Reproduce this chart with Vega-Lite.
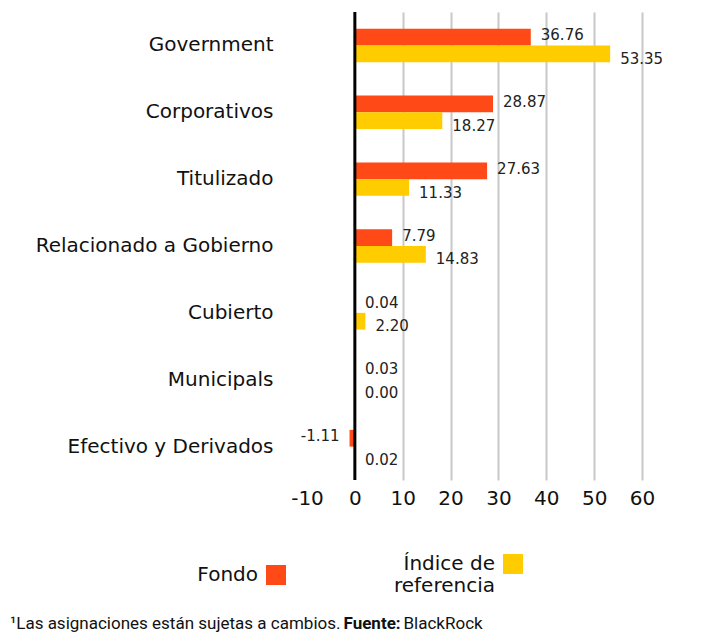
{
  "$schema": "https://vega.github.io/schema/vega-lite/v6.json",
  "width": 335,
  "height": 468,
  "autosize": "none",
  "padding": {"left": 307, "top": 12, "right": 76, "bottom": 156},
  "config": {
    "view": {"stroke": null},
    "font": "DejaVu Sans",
    "background": "white",
    "locale": {
      "number": {"decimal": ".", "thousands": ",", "grouping": [3], "currency": ["$", ""], "minus": "-"}
    }
  },
  "title": {
    "text": "¹Las asignaciones están sujetas a cambios.",
    "orient": "bottom",
    "anchor": "start",
    "frame": "group",
    "dx": -297,
    "dy": -15,
    "offset": 0,
    "fontSize": 17,
    "fontWeight": "normal",
    "font": "Roboto",
    "color": "#111111"
  },
  "data": {
    "values": [
      {"category": "Government", "series": "Fondo", "value": 36.76},
      {"category": "Government", "series": "Índice de referencia", "value": 53.35},
      {"category": "Corporativos", "series": "Fondo", "value": 28.87},
      {"category": "Corporativos", "series": "Índice de referencia", "value": 18.27},
      {"category": "Titulizado", "series": "Fondo", "value": 27.63},
      {"category": "Titulizado", "series": "Índice de referencia", "value": 11.33},
      {"category": "Relacionado a Gobierno", "series": "Fondo", "value": 7.79},
      {"category": "Relacionado a Gobierno", "series": "Índice de referencia", "value": 14.83},
      {"category": "Cubierto", "series": "Fondo", "value": 0.04},
      {"category": "Cubierto", "series": "Índice de referencia", "value": 2.20},
      {"category": "Municipals", "series": "Fondo", "value": 0.03},
      {"category": "Municipals", "series": "Índice de referencia", "value": 0.00},
      {"category": "Efectivo y Derivados", "series": "Fondo", "value": -1.11},
      {"category": "Efectivo y Derivados", "series": "Índice de referencia", "value": 0.02}
    ]
  },
  "layer": [
    {
      "mark": {"type": "bar"},
      "encoding": {
        "y": {
          "field": "category",
          "type": "nominal",
          "sort": ["Government", "Corporativos", "Titulizado", "Relacionado a Gobierno", "Cubierto", "Municipals", "Efectivo y Derivados"],
          "scale": {"paddingInner": 0.5, "paddingOuter": 0.25},
          "title": "BlackRock",
          "axis": {
            "labelFontSize": 20,
            "labelColor": "#111111",
            "labelPadding": 34,
            "labelLimit": 0,
            "ticks": false,
            "domain": false,
            "labelFont": "DejaVu Sans",
            "titleX": 96,
            "titleY": 616,
            "titleAngle": 0,
            "titleAlign": "left",
            "titleBaseline": "alphabetic",
            "titleFontWeight": "normal",
            "titleFontSize": 17,
            "titleFont": "Roboto",
            "titleColor": "#111111"
          }
        },
        "yOffset": {
          "field": "series",
          "type": "nominal",
          "sort": ["Fondo", "Índice de referencia"],
          "scale": {"paddingInner": 0, "paddingOuter": 0}
        },
        "x": {
          "field": "value",
          "type": "quantitative",
          "scale": {"domain": [-10, 60], "nice": false, "zero": false},
          "title": "Fuente:",
          "axis": {
            "values": [-10, 0, 10, 20, 30, 40, 50, 60],
            "labelFontSize": 20,
            "labelColor": "#111111",
            "labelPadding": 8,
            "labelFlush": false,
            "labelFont": "DejaVu Sans",
            "ticks": false,
            "domain": false,
            "grid": true,
            "gridWidth": 2,
            "gridColor": {"condition": {"test": "datum.value <= 0", "value": "transparent"}, "value": "#c8c8c8"},
            "titleX": 36,
            "titleY": 148,
            "titleAlign": "left",
            "titleBaseline": "alphabetic",
            "titleFontWeight": "bold",
            "titleFontSize": 17,
            "titleFont": "Roboto",
            "titleColor": "#111111"
          }
        },
        "color": {
          "field": "series",
          "type": "nominal",
          "sort": ["Fondo", "Índice de referencia"],
          "scale": {"domain": ["Fondo", "Índice de referencia"], "range": ["#FF4A17", "#FFCC00"]},
          "legend": {
            "title": null,
            "orient": "none",
            "legendX": -41,
            "legendY": 542,
            "direction": "horizontal",
            "symbolType": "square",
            "symbolSize": 400,
            "symbolStrokeWidth": 0,
            "symbolOpacity": 1,
            "labelAlign": "right",
            "labelOffset": -28,
            "labelFontSize": 20,
            "labelFont": "DejaVu Sans",
            "labelColor": "#111111",
            "labelLimit": 300,
            "columnPadding": 107,
            "padding": 0,
            "labelExpr": "datum.label == 'Índice de referencia' ? ['Índice de', 'referencia'] : datum.label"
          }
        }
      }
    },
    {
      "transform": [{"filter": "datum.series == 'Fondo' && datum.value >= 0"}],
      "mark": {"type": "text", "align": "left", "baseline": "middle", "dx": 10, "dy": -2, "fontSize": 15, "color": "#222222"},
      "encoding": {
        "y": {"field": "category", "type": "nominal", "sort": ["Government", "Corporativos", "Titulizado", "Relacionado a Gobierno", "Cubierto", "Municipals", "Efectivo y Derivados"]},
        "yOffset": {"field": "series", "type": "nominal", "sort": ["Fondo", "Índice de referencia"]},
        "x": {"field": "value", "type": "quantitative"},
        "text": {"field": "value", "type": "quantitative", "format": ".2f"}
      }
    },
    {
      "transform": [{"filter": "datum.series == 'Fondo' && datum.value < 0"}],
      "mark": {"type": "text", "align": "right", "baseline": "middle", "dx": -10, "dy": -2, "fontSize": 15, "color": "#222222"},
      "encoding": {
        "y": {"field": "category", "type": "nominal", "sort": ["Government", "Corporativos", "Titulizado", "Relacionado a Gobierno", "Cubierto", "Municipals", "Efectivo y Derivados"]},
        "yOffset": {"field": "series", "type": "nominal", "sort": ["Fondo", "Índice de referencia"]},
        "x": {"field": "value", "type": "quantitative"},
        "text": {"field": "value", "type": "quantitative", "format": ".2f"}
      }
    },
    {
      "transform": [{"filter": "datum.series == 'Índice de referencia'"}],
      "mark": {"type": "text", "align": "left", "baseline": "middle", "dx": 10, "dy": 5, "fontSize": 15, "color": "#222222"},
      "encoding": {
        "y": {"field": "category", "type": "nominal", "sort": ["Government", "Corporativos", "Titulizado", "Relacionado a Gobierno", "Cubierto", "Municipals", "Efectivo y Derivados"]},
        "yOffset": {"field": "series", "type": "nominal", "sort": ["Fondo", "Índice de referencia"]},
        "x": {"field": "value", "type": "quantitative"},
        "text": {"field": "value", "type": "quantitative", "format": ".2f"}
      }
    },
    {
      "data": {"values": [{"zero": 0}]},
      "mark": {"type": "rule", "color": "#000000", "strokeWidth": 3},
      "encoding": {
        "x": {"field": "zero", "type": "quantitative"}
      }
    }
  ]
}
